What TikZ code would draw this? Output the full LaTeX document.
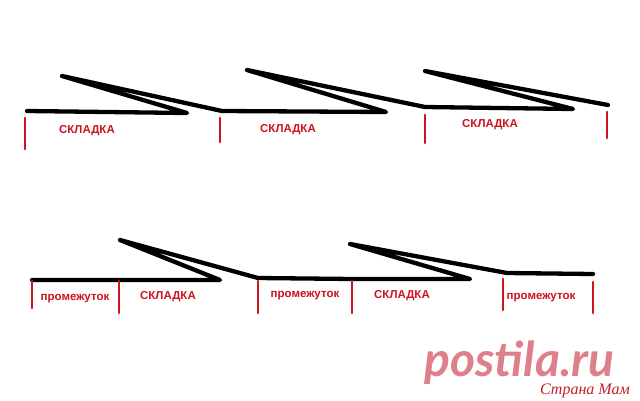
\documentclass[tikz,border=0pt]{standalone}
\usepackage{fontspec}
\setmainfont{Liberation Sans}
\newfontfamily\logofont{Lato}
\newfontfamily\serifit{Liberation Serif}
\definecolor{tickred}{RGB}{205,20,30}
\definecolor{logopink}{RGB}{222,128,138}
\definecolor{logored}{RGB}{200,30,40}
\begin{document}
\begin{tikzpicture}[x=1pt,y=-1pt,
  fold/.style={line width=4.3pt,line cap=round,line join=round,black},
  tick/.style={line width=2.8pt,line cap=round,tickred},
  lbl/.style={text=tickred,font=\fontsize{11.5}{13}\selectfont\bfseries,inner sep=0pt}]
\useasboundingbox[fill=white] (0,0) rectangle (640,400);
% top row points
\coordinate (a0) at (27,111);
\coordinate (p1) at (62,76);
\coordinate (e1) at (187,113);
\coordinate (a1) at (222,111);
\coordinate (p2) at (247,70);
\coordinate (e2) at (386,112);
\coordinate (a2) at (425,107);
\coordinate (p3) at (425,71);
\coordinate (e3) at (573,109);
\coordinate (a3) at (608,105);
\draw[fold] (a0) -- (e1) -- (p1) -- (a1) -- (e2) -- (p2) -- (a2) -- (e3) -- (p3) -- (a3);
% top ticks
\coordinate (t0a) at (25,118); \coordinate (t0b) at (25,149);
\coordinate (t1a) at (220,118); \coordinate (t1b) at (220,142);
\coordinate (t2a) at (425,115); \coordinate (t2b) at (425,143);
\coordinate (t3a) at (607,112); \coordinate (t3b) at (607,138);
\draw[tick] (t0a) -- (t0b);
\draw[tick] (t1a) -- (t1b);
\draw[tick] (t2a) -- (t2b);
\draw[tick] (t3a) -- (t3b);
\node[lbl] (s1) at (87,131) {СКЛАДКА};
\node[lbl] (s2) at (288,130) {СКЛАДКА};
\node[lbl] (s3) at (490,125) {СКЛАДКА};
% bottom row points
\coordinate (b0) at (32,280);
\coordinate (q1) at (120,240);
\coordinate (f1) at (220,280);
\coordinate (b1) at (258,278);
\coordinate (g1) at (353,279);
\coordinate (q2) at (350,244);
\coordinate (f2) at (470,279);
\coordinate (b2) at (507,273);
\coordinate (b3) at (593,274);
\draw[fold] (b0) -- (f1) -- (q1) -- (b1) -- (g1) -- (f2) -- (q2) -- (b2) -- (b3);
% bottom ticks
\coordinate (u0a) at (32,281); \coordinate (u0b) at (32,308);
\coordinate (u1a) at (119,281); \coordinate (u1b) at (119,313);
\coordinate (u2a) at (258,281); \coordinate (u2b) at (258,313);
\coordinate (u3a) at (352,281); \coordinate (u3b) at (352,313);
\coordinate (u4a) at (503,279); \coordinate (u4b) at (503,310);
\coordinate (u5a) at (593,282); \coordinate (u5b) at (593,313);
\draw[tick] (u0a) -- (u0b);
\draw[tick] (u1a) -- (u1b);
\draw[tick] (u2a) -- (u2b);
\draw[tick] (u3a) -- (u3b);
\draw[tick] (u4a) -- (u4b);
\draw[tick] (u5a) -- (u5b);
\node[lbl] (m1) at (75,299) {промежуток};
\node[lbl] (k1) at (168,297) {СКЛАДКА};
\node[lbl] (m2) at (305,296) {промежуток};
\node[lbl] (k2) at (402,296) {СКЛАДКА};
\node[lbl] (m3) at (541,298) {промежуток};
% watermark
\node[text=logopink,font=\logofont\fontsize{48}{52}\selectfont\bfseries\itshape,inner sep=0pt,text depth=0pt,anchor=base west] (logo) at (424,376) {postila.ru};
\node[text=logored,font=\serifit\fontsize{16}{18}\selectfont\itshape,inner sep=0pt,text height=11pt,anchor=base east] (sub) at (630,394) {Страна Мам};
\end{tikzpicture}
\end{document}
